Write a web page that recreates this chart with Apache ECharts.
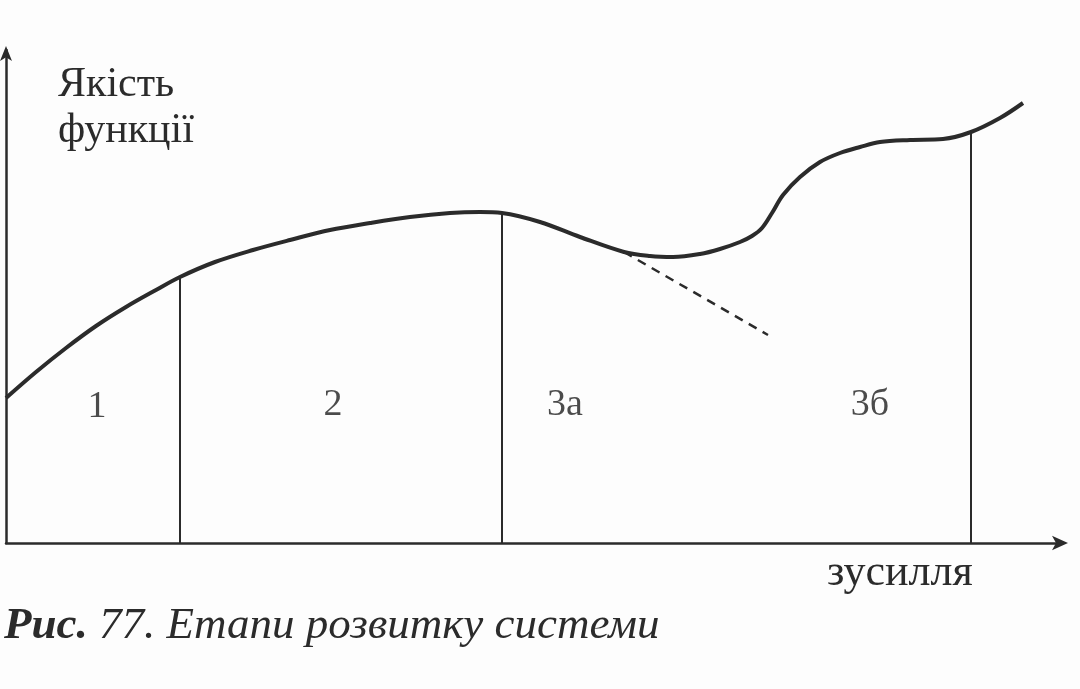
<!DOCTYPE html>
<html>
<head>
<meta charset="utf-8">
<script src="https://cdn.jsdelivr.net/npm/echarts@6/dist/echarts.min.js"></script>
<style>
html,body{margin:0;padding:0;background:#fdfdfd;}
#c{width:1080px;height:689px;}
</style>
</head>
<body>
<div id="c"></div>
<script>
// Curve "Якість функції" vs "зусилля" (arbitrary units)
const curveX = [0, 30, 60, 90, 120, 150, 174, 209, 247, 284, 324, 364, 404, 444, 474, 496, 534, 574, 618, 644, 667, 694, 714, 734, 746, 756, 766, 777, 794, 814, 834, 854, 874, 904, 937, 965, 994, 1017];
const curveY = [145, 171, 195, 217, 236, 253, 266, 281, 293, 303, 313, 320, 326, 330, 331, 330, 321, 306, 291, 287, 286, 289, 294, 301, 307, 315, 330, 348, 366, 381, 390, 396, 401, 403, 404, 411, 425, 440];
// Stage boundaries (x) and curve height there
const boundaryX = [174, 496, 965];
const boundaryY = [266, 330, 411];
// Dashed continuation of the declining trend
const dashX = [618, 762];
const dashY = [291, 208];
// Stage labels
const stageNames = ['1', '2', '3а', '3б'];
const stageX = [91, 327, 559, 864];
const stageY = [136, 138, 138, 138];

const yTitle = ['Якість', 'функції'];
const xTitle = 'зусилля';
const captionBold = 'Рис.';
const captionRest = ' 77. Етапи розвитку системи';

const ink = '#2b2b2b';
const serif = '"Liberation Serif", "DejaVu Serif", serif';

const series = [];
series.push({
  type: 'line', smooth: 0.35, symbol: 'none',
  lineStyle: {color: ink, width: 4},
  data: curveX.map((x, i) => [x, curveY[i]]), z: 5
});
boundaryX.forEach((x, i) => {
  series.push({
    type: 'line', symbol: 'none',
    lineStyle: {color: ink, width: 2},
    data: [[x, 0], [x, boundaryY[i]]]
  });
});
series.push({
  type: 'line', symbol: 'none',
  lineStyle: {color: ink, width: 2.5, type: [9, 7]},
  data: dashX.map((x, i) => [x, dashY[i]])
});
series.push({
  type: 'scatter', symbolSize: 0,
  data: stageX.map((x, i) => [x, stageY[i], stageNames[i]]),
  label: {
    show: true, position: 'inside',
    formatter: p => p.data[2],
    fontFamily: serif, fontSize: 38, color: '#1e1e1e'
  }
});

const chart = echarts.init(document.getElementById('c'));
chart.setOption({
  backgroundColor: '#fdfdfd',
  animation: false,
  grid: {left: 6, right: 18, top: 50, bottom: 146},
  xAxis: {
    type: 'value', min: 0, max: 1056,
    axisLine: {show: true, onZero: false, lineStyle: {color: ink, width: 2.5}, symbol: ['none', 'arrow'], symbolSize: [11, 16], symbolOffset: [0, 6]},
    axisTick: {show: false}, axisLabel: {show: false}, splitLine: {show: false}
  },
  yAxis: {
    type: 'value', min: 0, max: 493,
    axisLine: {show: true, onZero: false, lineStyle: {color: ink, width: 2.5}, symbol: ['none', 'arrow'], symbolSize: [9, 15], symbolOffset: [0, 4]},
    axisTick: {show: false}, axisLabel: {show: false}, splitLine: {show: false}
  },
  series: series,
  graphic: [
    {type: 'text', left: 58, top: 64, style: {text: yTitle[0], font: '42px ' + serif, fill: ink}},
    {type: 'text', left: 58, top: 110, style: {text: yTitle[1], font: '42px ' + serif, fill: ink}},
    {type: 'text', left: 827, top: 551, style: {text: xTitle, font: '44px ' + serif, fill: ink}},
    {type: 'text', left: 4, top: 604, style: {
      text: '{b|' + captionBold + '}{r|' + captionRest + '}',
      rich: {
        b: {fontFamily: serif, fontSize: 45, fontStyle: 'italic', fontWeight: 'bold', fill: ink},
        r: {fontFamily: serif, fontSize: 45, fontStyle: 'italic', fill: ink}
      }
    }}
  ]
});
</script>
</body>
</html>
